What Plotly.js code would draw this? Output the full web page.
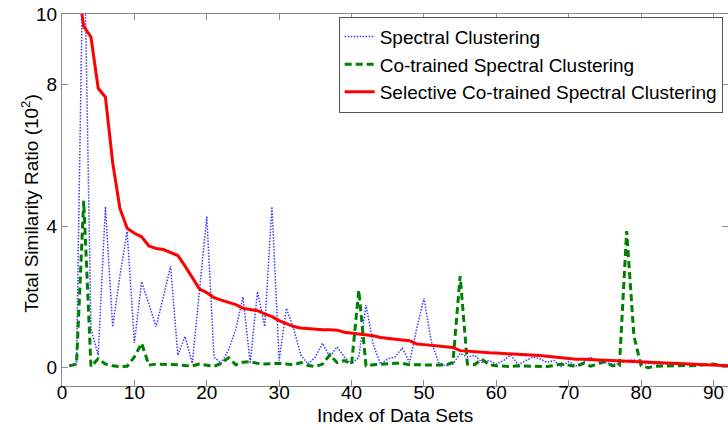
<!DOCTYPE html>
<html>
<head>
<meta charset="utf-8">
<script src="https://cdn.plot.ly/plotly-3.0.1.min.js"></script>
<style>
  html, body { margin: 0; padding: 0; background: #fff; }
  #chart { width: 728px; height: 430px; }
</style>
</head>
<body>
<div id="chart"></div>
<script>
// Index of data sets (x)
const indexValues = Array.from({length: 92}, (_, i) => i + 1);

// Spectral Clustering (blue dotted)
const spectral = [
  0.05, 0.1, 13, 1.1, 0.35, 4.55, 1.15, 2.6, 3.85, 0.7,
  2.43, 1.8, 1.16, 2.0, 2.87, 0.35, 0.88, 0.12, 2.2, 4.27,
  0.3, 0.12, 0.5, 1.07, 2.0, 0.12, 2.15, 1.16, 4.55, 0.2,
  1.68, 1.1, 0.35, 0.1, 0.3, 0.69, 0.3, 0.59, 0.3, 0.1,
  0.3, 1.77, 0.65, 0.1, 0.25, 0.3, 0.55, 0.15, 1.1, 1.96,
  0.75, 0.15, 0.05, 0.1, 0.4, 0.3, 0.35, 0.15, 0.2, 0.1,
  0.2, 0.36, 0.08, 0.2, 0.3, 0.25, 0.15, 0.2, 0.03, 0.17,
  0.05, 0.15, 0.3, 0.18, 0.15, 0.1, 0.1, 0.2, 0.22, 0.1,
  0.12, 0.1, 0.11, 0.1, 0.09, 0.1, 0.08, 0.09, 0.08, 0.07,
  0.07, 0.06
];

// Co-trained Spectral Clustering (green dashed)
const coTrained = [
  0.05, 0.1, 4.72, 0.03, 0.25, 0.1, 0.05, 0.03, 0.04, 0.3,
  0.69, 0.07, 0.1, 0.1, 0.1, 0.08, 0.06, 0.05, 0.1, 0.08,
  0.04, 0.12, 0.28, 0.08, 0.15, 0.17, 0.12, 0.1, 0.12, 0.12,
  0.1, 0.08, 0.14, 0.06, 0.03, 0.1, 0.36, 0.14, 0.2, 0.1,
  2.19, 0.05, 0.08, 0.1, 0.12, 0.12, 0.12, 0.08, 0.08, 0.08,
  0.07, 0.06, 0.07, 0.15, 2.59, 0.1, 0.08, 0.24, 0.08, 0.05,
  0.04, 0.03, 0.05, 0.05, 0.04, 0.03, 0.03, 0.06, 0.1, 0.07,
  0.03, 0.12, 0.04, 0.1, 0.17, 0.05, 0.05, 3.86, 0.9, 0.05,
  0.0, 0.04, 0.05, 0.06, 0.05, 0.06, 0.05, 0.07, 0.09, 0.1,
  0.06, 0.04
];

// Selective Co-trained Spectral Clustering (red solid)
const selective = [
  12.5, 11, 9.65, 9.35, 7.9, 7.65, 5.8, 4.5, 3.94, 3.8,
  3.7, 3.44, 3.37, 3.34, 3.25, 3.17, 2.87, 2.55, 2.22, 2.12,
  1.98, 1.91, 1.84, 1.78, 1.68, 1.64, 1.61, 1.52, 1.44, 1.33,
  1.24, 1.16, 1.12, 1.1, 1.08, 1.07, 1.07, 1.06, 1.0, 0.98,
  0.95, 0.93, 0.9, 0.85, 0.82, 0.8, 0.78, 0.76, 0.67, 0.65,
  0.63, 0.61, 0.59, 0.57, 0.48, 0.46, 0.45, 0.43, 0.42, 0.41,
  0.4, 0.4, 0.39, 0.37, 0.36, 0.34, 0.32, 0.3, 0.27, 0.25,
  0.24, 0.24, 0.23, 0.22, 0.21, 0.2, 0.19, 0.17, 0.16, 0.15,
  0.14, 0.13, 0.12, 0.11, 0.1, 0.09, 0.09, 0.08, 0.07, 0.07,
  0.06, 0.05
];

const seriesNames = [
  'Spectral Clustering',
  'Co-trained Spectral Clustering',
  'Selective Co-trained Spectral Clustering'
];

const xTickVals = [0, 10, 20, 30, 40, 50, 60, 70, 80, 90];
const yTickVals = [0, 4, 8, 10];
const xRange = [0, 92];
const yRange = [-0.52, 10];
const xTitle = 'Index of Data Sets';
const yTitle = 'Total Similarity Ratio (10<sup>2</sup>)';

const FONT = 'Liberation Sans, Arial, Helvetica, sans-serif';
const AXIS_GRAY = '#8c8c8c';

const traces = [
  {
    x: indexValues, y: spectral, name: seriesNames[0], type: 'scatter', mode: 'lines',
    line: {color: '#3a3aff', width: 1.5, dash: '1.5px,1.5px'}
  },
  {
    x: indexValues, y: coTrained, name: seriesNames[1], type: 'scatter', mode: 'lines',
    line: {color: '#008000', width: 3, dash: '7px,4px'}
  },
  {
    x: indexValues, y: selective, name: seriesNames[2], type: 'scatter', mode: 'lines',
    line: {color: '#ff0000', width: 3}
  },
  // carries the tick-label axis only; draws nothing
  {
    x: indexValues, y: selective, xaxis: 'x2', yaxis: 'y', type: 'scatter', mode: 'none',
    showlegend: false, hoverinfo: 'skip'
  }
];

const layout = {
  width: 728,
  height: 430,
  margin: {l: 62, r: 0, t: 14, b: 44},
  paper_bgcolor: '#ffffff',
  plot_bgcolor: '#ffffff',
  font: {family: FONT, size: 19, color: '#000000'},
  showlegend: true,
  legend: {
    x: 0.992, y: 0.993, xanchor: 'right', yanchor: 'top',
    bgcolor: '#ffffff', bordercolor: '#555555', borderwidth: 1,
    font: {family: FONT, size: 19, color: '#000000'},
    tracegroupgap: 0
  },
  xaxis: {
    range: xRange,
    tickvals: xTickVals,
    ticks: 'inside', ticklen: 6, tickcolor: AXIS_GRAY, tickwidth: 1,
    showline: true, linecolor: AXIS_GRAY, linewidth: 1, mirror: 'ticks',
    showgrid: false, zeroline: false,
    showticklabels: false
  },
  // label-only axis, drawn a few pixels higher so the labels sit tight under the box
  xaxis2: {
    range: xRange,
    tickvals: xTickVals,
    overlaying: 'x', anchor: 'free', position: 0.019, side: 'bottom',
    ticks: '', showline: false, showgrid: false, zeroline: false,
    tickfont: {family: FONT, size: 19, color: '#000'}
  },
  yaxis: {
    range: yRange,
    tickvals: yTickVals,
    ticks: 'inside', ticklen: 6, tickcolor: AXIS_GRAY, tickwidth: 1,
    showline: true, linecolor: AXIS_GRAY, linewidth: 1, mirror: 'ticks',
    showgrid: false, zeroline: false,
    tickfont: {family: FONT, size: 19, color: '#000'}
  },
  annotations: [
    {
      text: xTitle, xref: 'paper', yref: 'paper', x: 0.5, y: -0.078,
      xanchor: 'center', yanchor: 'middle', showarrow: false, borderpad: 0,
      font: {family: FONT, size: 19, color: '#000'}
    },
    {
      text: yTitle, xref: 'paper', yref: 'paper', x: -0.048, y: 0.49,
      xanchor: 'center', yanchor: 'middle', showarrow: false, textangle: -90,
      font: {family: FONT, size: 19, color: '#000'}
    }
  ]
};

Plotly.newPlot('chart', traces, layout, {displayModeBar: false, staticPlot: true});
</script>
</body>
</html>
